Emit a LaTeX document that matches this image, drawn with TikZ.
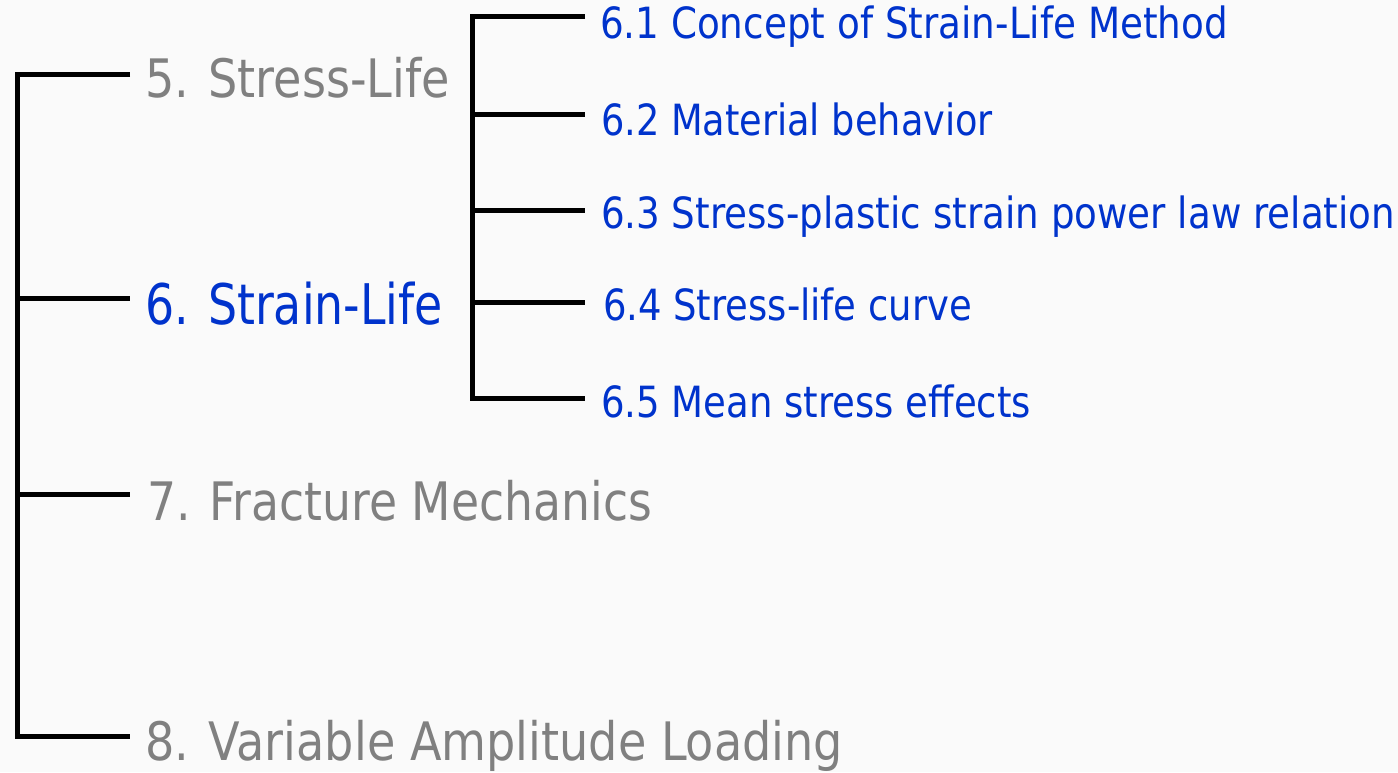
\documentclass[tikz,border=0pt]{standalone}
\usepackage{fontspec}
\usepackage{graphicx}
\setmainfont{DejaVu Sans}
\definecolor{bgc}{HTML}{FAFAFA}
\definecolor{blu}{HTML}{0033CC}
\definecolor{gry}{HTML}{808080}
\newcommand{\fitw}[3]{\resizebox{#1pt}{\height}{\fontsize{#2}{#2}\selectfont #3}}
\tikzset{
  lbl/.style={anchor=base west, inner sep=0pt, outer sep=0pt},
  mainitem/.style={lbl, text=gry},
  curitem/.style={lbl, text=blu},
  subitem/.style={lbl, text=blu},
  tree/.style={draw=black, line width=5pt, line join=miter, line cap=butt},
}
\begin{document}
\begin{tikzpicture}[x=1pt,y=-1pt]
\fill[bgc] (0,0) rectangle (1398,772);
\useasboundingbox (0,0) rectangle (1398,772);
% main items
\node[mainitem] (n5) at (145,97) {\fitw{305}{53}{5. Stress-Life}};
\node[curitem] (n6) at (145,324) {\fitw{298}{56}{6. Strain-Life}};
\node[mainitem] (n7) at (147,520) {\fitw{505}{53}{7. Fracture Mechanics}};
\node[mainitem] (n8) at (145,760) {\fitw{698}{53}{8. Variable Amplitude Loading}};
% sub items
\node[subitem] (s1) at (600,38) {\fitw{628}{43}{6.1 Concept of Strain-Life Method}};
\node[subitem] (s2) at (601,135) {\fitw{392}{43}{6.2 Material behavior}};
\node[subitem] (s3) at (601,228) {\fitw{794}{43}{6.3 Stress-plastic strain power law relation}};
\node[subitem] (s4) at (603,320) {\fitw{369}{43}{6.4 Stress-life curve}};
\node[subitem] (s5) at (601,417) {\fitw{430}{43}{6.5 Mean stress effects}};
% main tree
\coordinate (m5) at (130,74);
\coordinate (m6) at (130,298);
\coordinate (m7) at (130,494);
\coordinate (m8) at (130,736);
\draw[tree] (m5) -- (17,74) -- (17,736) -- (m8);
\draw[tree] (17,298) -- (m6);
\draw[tree] (17,494) -- (m7);
% sub tree
\coordinate (c1) at (585,16);
\coordinate (c2) at (585,114);
\coordinate (c3) at (585,210);
\coordinate (c4) at (585,302);
\coordinate (c5) at (585,398);
\draw[tree] (c1) -- (472,16) -- (472,398) -- (c5);
\draw[tree] (472,114) -- (c2);
\draw[tree] (472,210) -- (c3);
\draw[tree] (472,302) -- (c4);
\end{tikzpicture}
\end{document}
